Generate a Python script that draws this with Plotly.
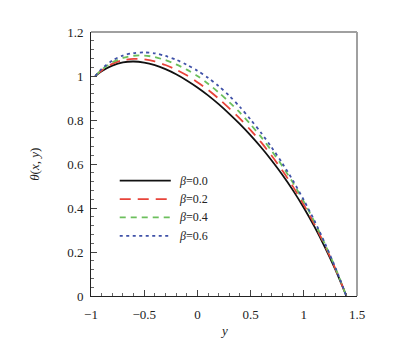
import plotly.graph_objects as go

# Coordinate y along the section and temperature theta(x, y) for each beta
y_vals = [-0.96, -0.9, -0.8, -0.7, -0.6, -0.5, -0.4, -0.3, -0.2, -0.1, 0.0,
          0.1, 0.2, 0.3, 0.4, 0.5, 0.6, 0.7, 0.8, 0.9, 1.0, 1.1, 1.2, 1.3, 1.4]

theta_b00 = [1.000, 1.022, 1.047, 1.062, 1.066, 1.061, 1.049, 1.031, 1.008, 0.980, 0.948,
             0.912, 0.872, 0.828, 0.781, 0.730, 0.675, 0.615, 0.550, 0.479, 0.401,
             0.315, 0.220, 0.116, 0.000]
theta_b02 = [1.000, 1.025, 1.055, 1.072, 1.078, 1.076, 1.066, 1.050, 1.029, 1.003, 0.972,
             0.937, 0.897, 0.853, 0.806, 0.754, 0.698, 0.636, 0.569, 0.496, 0.415,
             0.326, 0.228, 0.120, 0.000]
theta_b04 = [1.000, 1.028, 1.062, 1.082, 1.092, 1.093, 1.086, 1.072, 1.053, 1.029, 1.000,
             0.965, 0.925, 0.881, 0.833, 0.780, 0.722, 0.658, 0.589, 0.513, 0.429,
             0.337, 0.235, 0.124, 0.000]
theta_b06 = [1.000, 1.032, 1.070, 1.093, 1.104, 1.107, 1.103, 1.091, 1.074, 1.051, 1.024,
             0.992, 0.954, 0.910, 0.859, 0.802, 0.741, 0.674, 0.602, 0.523, 0.436,
             0.342, 0.238, 0.125, 0.000]

series_names = ["<i>β</i>=0.0", "<i>β</i>=0.2", "<i>β</i>=0.4", "<i>β</i>=0.6"]
series_data = [theta_b00, theta_b02, theta_b04, theta_b06]
series_colors = ["#111111", "#e8443a", "#6cbf5c", "#3f51a8"]
series_dash = ["solid", "11px,7px", "6px,5px", "3px,3.5px"]
series_width = [1.8, 1.8, 1.8, 1.8]

x_ticks = [-1, -0.5, 0, 0.5, 1, 1.5]
x_ticktext = ["−1", "−0.5", "0", "0.5", "1", "1.5"]
y_ticks = [0, 0.2, 0.4, 0.6, 0.8, 1, 1.2]
y_ticktext = ["0", "0.2", "0.4", "0.6", "0.8", "1", "1.2"]

serif = "Liberation Serif"

fig = go.Figure()
for name, th, col, dash, w in zip(series_names, series_data, series_colors,
                                  series_dash, series_width):
    fig.add_trace(go.Scatter(x=y_vals, y=th, mode="lines", name=name,
                             line=dict(color=col, dash=dash, width=w, shape="spline",
                                       smoothing=0.8),
                             showlegend=False))

# Hand-built legend inside the plotting area
leg_x0, leg_x1, leg_tx = 0.108, 0.30, 0.322
leg_rows = [0.437, 0.367, 0.298, 0.228]
shapes = []
annotations = []
for name, col, dash, w, ry in zip(series_names, series_colors, series_dash,
                                  series_width, leg_rows):
    shapes.append(dict(type="line", xref="paper", yref="paper",
                       x0=leg_x0, x1=leg_x1, y0=ry, y1=ry,
                       line=dict(color=col, dash=dash, width=w)))
    annotations.append(dict(xref="paper", yref="paper", x=leg_tx, y=ry,
                            text=name, showarrow=False, xanchor="left",
                            yanchor="middle",
                            font=dict(family=serif, size=12, color="#222")))

# Grey top and right frame edges
shapes.append(dict(type="line", xref="paper", yref="paper", x0=0, x1=1, y0=1, y1=1,
                   line=dict(color="#a0a0a0", width=2)))
shapes.append(dict(type="line", xref="paper", yref="paper", x0=1, x1=1, y0=0, y1=1,
                   line=dict(color="#a0a0a0", width=2)))

# Axis titles
annotations.append(dict(xref="paper", yref="paper", x=0.5, y=-0.095, text="<i>y</i>",
                        showarrow=False, xanchor="center", yanchor="top",
                        font=dict(family=serif, size=13, color="#222")))
annotations.append(dict(xref="paper", yref="paper", x=-0.215, y=0.5,
                        text="<i>θ</i>(<i>x</i>, <i>y</i>)", textangle=-90,
                        showarrow=False, xanchor="center", yanchor="middle",
                        font=dict(family=serif, size=13, color="#222")))

fig.update_layout(
    width=403, height=347,
    margin=dict(l=91, r=46, t=32, b=51),
    paper_bgcolor="white", plot_bgcolor="white",
    font=dict(family=serif, size=12, color="#222"),
    shapes=shapes, annotations=annotations,
    xaxis=dict(range=[-1, 1.5], tickvals=x_ticks, ticktext=x_ticktext,
               showgrid=False, zeroline=False, showline=True, linecolor="#222",
               linewidth=1, ticks="inside", ticklen=6, tickcolor="#444",
               ticklabelstandoff=6,
               tickfont=dict(family=serif, size=13, color="#222"),
               minor=dict(dtick=0.1, ticks="inside", ticklen=3, tickcolor="#666",
                          showgrid=False)),
    yaxis=dict(range=[0, 1.2], tickvals=y_ticks, ticktext=y_ticktext,
               showgrid=False, zeroline=False, showline=True, linecolor="#222",
               linewidth=1, ticks="inside", ticklen=6, tickcolor="#444",
               ticklabelstandoff=4,
               tickfont=dict(family=serif, size=13, color="#222"),
               minor=dict(dtick=0.04, ticks="inside", ticklen=3, tickcolor="#666",
                          showgrid=False)),
)

fig.write_html("out.html")
